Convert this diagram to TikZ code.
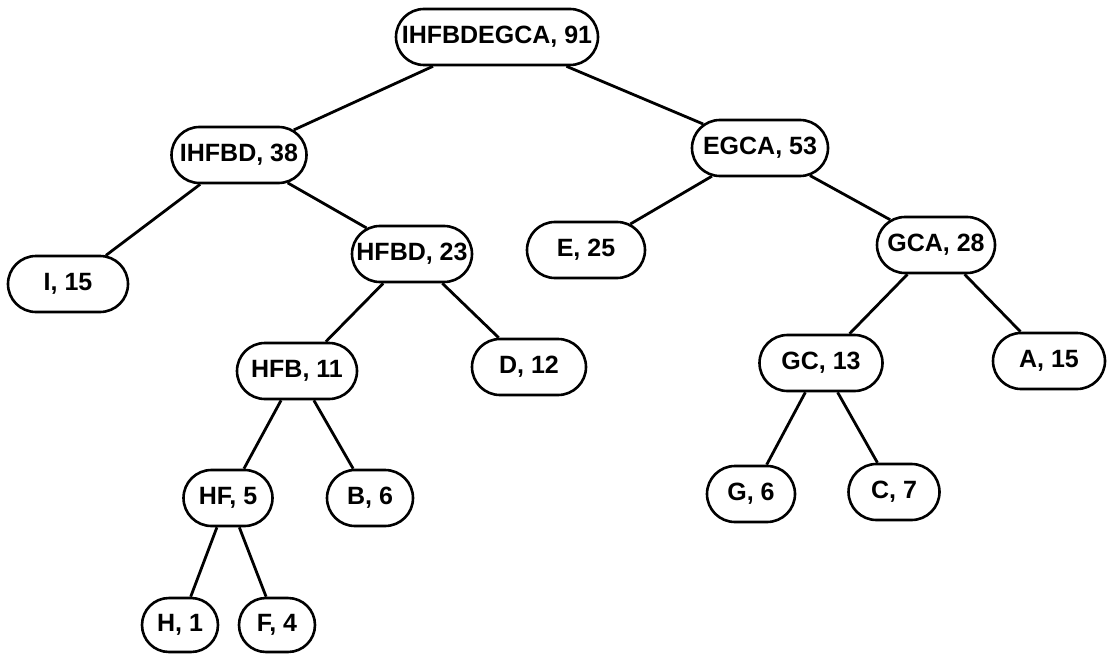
\documentclass[tikz,border=0pt]{standalone}
\usepackage{fontspec}
\setmainfont{Liberation Sans}
\usetikzlibrary{shapes.misc}
\begin{document}
\begin{tikzpicture}[x=1pt,y=-1pt,
  pill/.style={draw, rounded rectangle, line width=2.6pt, inner sep=0pt,
    minimum height=56pt, font=\fontsize{25}{30}\selectfont\bfseries},
  link/.style={line width=2.8pt}]
\useasboundingbox (0,0) rectangle (1107,655);
% nodes: label, weight
\node[pill, minimum width=202pt] (root) at (497,37)  {IHFBDEGCA, 91};
\node[pill, minimum width=135pt] (ihfbd) at (239,155) {IHFBD, 38};
\node[pill, minimum width=136pt] (egca)  at (760,148) {EGCA, 53};
\node[pill, minimum width=120pt] (i)     at (68,284)  {I, 15};
\node[pill, minimum width=120pt] (hfbd)  at (412,254) {HFBD, 23};
\node[pill, minimum width=118pt] (e)     at (586,250) {E, 25};
\node[pill, minimum width=118pt] (gca)   at (936,245) {GCA, 28};
\node[pill, minimum width=120pt] (hfb)   at (297,371) {HFB, 11};
\node[pill, minimum width=114pt] (d)     at (529,367) {D, 12};
\node[pill, minimum width=123pt] (gc)    at (821,363) {GC, 13};
\node[pill, minimum width=112pt] (a)     at (1049,361) {A, 15};
\node[pill, minimum width=89pt]  (hf)    at (228,498) {HF, 5};
\node[pill, minimum width=86pt]  (b)     at (370,498) {B, 6};
\node[pill, minimum width=88pt]  (g)     at (751,494) {G, 6};
\node[pill, minimum width=91pt]  (c)     at (894,492) {C, 7};
\node[pill, minimum width=76pt, minimum height=54pt] (h) at (180,625) {H, 1};
\node[pill, minimum width=76pt, minimum height=54pt] (f) at (277,625) {F, 4};
% tree edges
\draw[link] (root) -- (ihfbd);
\draw[link] (root) -- (egca);
\draw[link] (ihfbd) -- (i);
\draw[link] (ihfbd) -- (hfbd);
\draw[link] (hfbd) -- (hfb);
\draw[link] (hfbd) -- (d);
\draw[link] (hfb) -- (hf);
\draw[link] (hfb) -- (b);
\draw[link] (hf) -- (h);
\draw[link] (hf) -- (f);
\draw[link] (egca) -- (e);
\draw[link] (egca) -- (gca);
\draw[link] (gca) -- (gc);
\draw[link] (gca) -- (a);
\draw[link] (gc) -- (g);
\draw[link] (gc) -- (c);
\end{tikzpicture}
\end{document}
